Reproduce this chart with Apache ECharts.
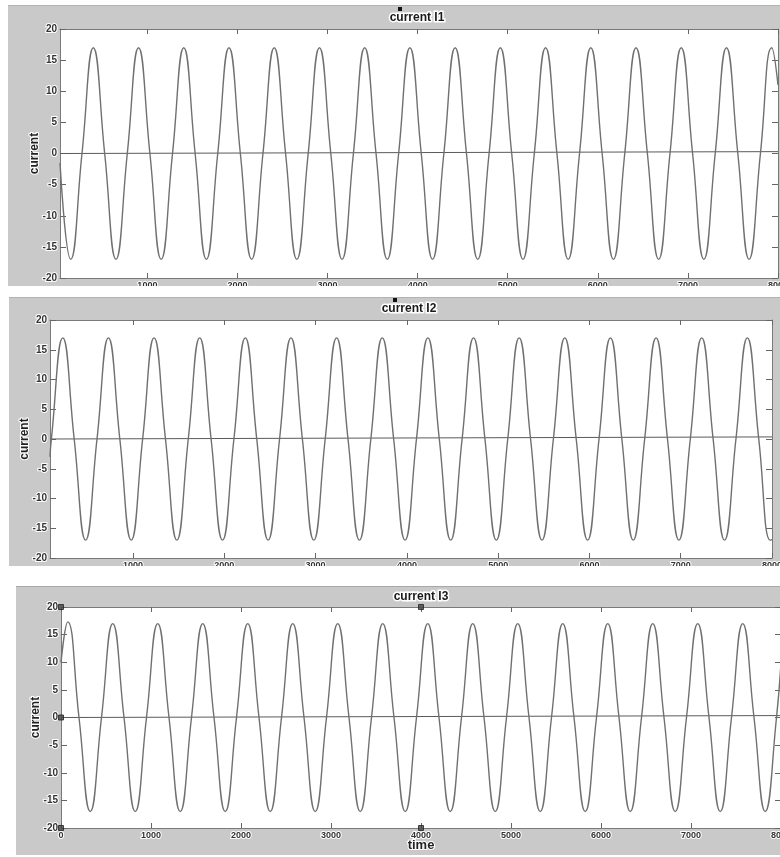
<!DOCTYPE html>
<html>
<head>
<meta charset="utf-8">
<script src="https://cdn.jsdelivr.net/npm/echarts@6/dist/echarts.min.js"></script>
<style>
html, body { margin: 0; padding: 0; background: #fff; }
#main { width: 780px; height: 857px; }
</style>
</head>
<body>
<div id="main"></div>
<script>
// tick labels
var xTicks = [1000, 2000, 3000, 4000, 5000, 6000, 7000, 8000];
var xTicks3 = [0, 1000, 2000, 3000, 4000, 5000, 6000, 7000, 8000];

// current I1 : peaks, zero crossings and troughs
var t1 = [30, 149, 274, 400, 526, 651, 777, 902, 1028, 1153, 1279, 1404, 1530, 1655, 1781, 1906,
	2032, 2157, 2283, 2408, 2534, 2659, 2785, 2910, 3036, 3161, 3287, 3412, 3538, 3663, 3789, 3914,
	4040, 4165, 4291, 4416, 4542, 4667, 4793, 4918, 5044, 5169, 5295, 5420, 5546, 5671, 5797, 5922,
	6048, 6173, 6299, 6424, 6550, 6675, 6801, 6926, 7052, 7177, 7303, 7428, 7554, 7679, 7805, 7930, 8000];
var i1 = [-1.5,
	-17, 0, 17, 0, -17, 0, 17, 0, -17, 0, 17, 0, -17, 0, 17, 0,
	-17, 0, 17, 0, -17, 0, 17, 0, -17, 0, 17, 0, -17, 0, 17, 0,
	-17, 0, 17, 0, -17, 0, 17, 0, -17, 0, 17, 0, -17, 0, 17, 0,
	-17, 0, 17, 0, -17, 0, 17, 0, -17, 0, 17, 0, -17, 0, 17,
	11];

// current I2
var t2 = [90, 105, 230, 355, 480, 605, 730, 855, 980, 1105, 1230, 1355, 1480, 1605, 1730, 1855, 1980,
	2105, 2230, 2355, 2480, 2605, 2730, 2855, 2980, 3105, 3230, 3355, 3480, 3605, 3730, 3855, 3980,
	4105, 4230, 4355, 4480, 4605, 4730, 4855, 4980, 5105, 5230, 5355, 5480, 5605, 5730, 5855, 5980,
	6105, 6230, 6355, 6480, 6605, 6730, 6855, 6980, 7105, 7230, 7355, 7480, 7605, 7730, 7855, 7980, 8000];
var i2 = [-3,
	0, 17, 0, -17, 0, 17, 0, -17, 0, 17, 0, -17, 0, 17, 0, -17,
	0, 17, 0, -17, 0, 17, 0, -17, 0, 17, 0, -17, 0, 17, 0, -17,
	0, 17, 0, -17, 0, 17, 0, -17, 0, 17, 0, -17, 0, 17, 0, -17,
	0, 17, 0, -17, 0, 17, 0, -17, 0, 17, 0, -17, 0, 17, 0, -17,
	-16.9];

// current I3
var t3 = [0, 75, 200, 325, 450, 575, 700, 825, 950, 1075, 1200, 1325, 1450, 1575, 1700, 1825, 1950,
	2075, 2200, 2325, 2450, 2575, 2700, 2825, 2950, 3075, 3200, 3325, 3450, 3575, 3700, 3825, 3950,
	4075, 4200, 4325, 4450, 4575, 4700, 4825, 4950, 5075, 5200, 5325, 5450, 5575, 5700, 5825, 5950,
	6075, 6200, 6325, 6450, 6575, 6700, 6825, 6950, 7075, 7200, 7325, 7450, 7575, 7700, 7825, 7950, 8000];
var i3 = [10,
	17.3, 0, -17, 0, 17, 0, -17, 0, 17, 0, -17, 0, 17, 0, -17, 0,
	17, 0, -17, 0, 17, 0, -17, 0, 17, 0, -17, 0, 17, 0, -17, 0,
	17, 0, -17, 0, 17, 0, -17, 0, 17, 0, -17, 0, 17, 0, -17, 0,
	17, 0, -17, 0, 17, 0, -17, 0, 17, 0, -17, 0, 17, 0, -17, 0,
	10];

// the slow line near zero in each scope
var dcT1 = [30, 8000];
var dc1 = [0, 0.3];
var dcT2 = [90, 8000];
var dc2 = [0, 0.35];
var dcT3 = [0, 8000];
var dc3 = [0, 0.35];

// selection handles on the third picture
var handleT = [0, 0, 0, 4000, 4000];
var handleV = [20, 0, -20, 20, -20];

function pairs(ts, vs) {
	var out = [];
	for (var k = 0; k < ts.length; k++) {
		out.push([ts[k], vs[k]]);
	}
	return out;
}

var lineCol = '#7a7a7a';

function bottomAxis(g, min, ticks, name) {
	return {
		type: 'value', gridIndex: g, min: min, max: 8000, position: 'bottom',
		splitLine: { show: false },
		axisLine: { onZero: false, lineStyle: { color: lineCol, width: 1 } },
		axisTick: { inside: true, length: 5, customValues: ticks, lineStyle: { color: '#666' } },
		axisLabel: {
			customValues: ticks, margin: 3, fontSize: 9, fontWeight: 'bold',
			fontFamily: 'Liberation Sans', color: '#333',
			textBorderColor: '#fff', textBorderWidth: 2,
			formatter: function (v) { return String(v); }
		},
		name: name || '', nameLocation: 'middle', nameGap: 11, nameMoveOverlap: false,
		nameTextStyle: { fontSize: 13, fontWeight: 'bold', fontFamily: 'Liberation Sans', color: '#222',
			textBorderColor: '#fff', textBorderWidth: 2 }
	};
}

function topAxis(g, min, ticks) {
	return {
		type: 'value', gridIndex: g, min: min, max: 8000, position: 'top',
		splitLine: { show: false },
		axisLine: { onZero: false, lineStyle: { color: lineCol, width: 1 } },
		axisTick: { inside: true, length: 5, customValues: ticks, lineStyle: { color: '#666' } },
		axisLabel: { show: false }
	};
}

function leftAxis(g) {
	return {
		type: 'value', gridIndex: g, min: -20, max: 20, interval: 5, position: 'left',
		splitLine: { show: false },
		axisLine: { show: true, onZero: false, lineStyle: { color: lineCol, width: 1 } },
		axisTick: { show: true, inside: true, length: 6, lineStyle: { color: '#666' } },
		axisLabel: {
			margin: 3, fontSize: 10, fontWeight: 'bold', fontFamily: 'Liberation Sans', color: '#333',
			textBorderColor: '#fff', textBorderWidth: 2
		},
		name: 'current', nameLocation: 'middle', nameGap: 19, nameRotate: 90, nameMoveOverlap: false,
		nameTextStyle: { fontSize: 12, fontWeight: 'bold', fontFamily: 'Liberation Sans', color: '#222',
			textBorderColor: '#fff', textBorderWidth: 2 }
	};
}

function rightAxis(g) {
	return {
		type: 'value', gridIndex: g, min: -20, max: 20, interval: 5, position: 'right',
		splitLine: { show: false },
		axisLine: { show: true, onZero: false, lineStyle: { color: lineCol, width: 1 } },
		axisTick: { show: true, inside: true, length: 6, lineStyle: { color: '#666' } },
		axisLabel: { show: false }
	};
}

function wave(g, data) {
	return {
		type: 'line', xAxisIndex: g, yAxisIndex: g, data: data,
		smooth: 0.5, showSymbol: false, symbol: 'none', animation: false,
		lineStyle: { color: '#707070', width: 1.4 }, z: 3
	};
}

function dcLine(g, data) {
	return {
		type: 'line', xAxisIndex: g, yAxisIndex: g, data: data,
		showSymbol: false, symbol: 'none', animation: false,
		lineStyle: { color: '#5a5a5a', width: 1 }, z: 2
	};
}

function titleText(x, y, txt) {
	return {
		type: 'text', x: x, y: y, z: 50,
		style: {
			text: txt, align: 'center', verticalAlign: 'middle',
			font: 'bold 12px "Liberation Sans"', fill: '#1a1a1a',
			stroke: '#fff', lineWidth: 3
		}
	};
}

var myChart = echarts.init(document.getElementById('main'));
var option = {
	backgroundColor: '#fff',
	animation: false,
	grid: [
		{ left: 60, top: 29, width: 718, height: 249, show: true, backgroundColor: '#fff', borderWidth: 0, outerBoundsMode: 'none' },
		{ left: 50, top: 320, width: 722, height: 238, show: true, backgroundColor: '#fff', borderWidth: 0, outerBoundsMode: 'none' },
		{ left: 61, top: 607, width: 720, height: 221, show: true, backgroundColor: '#fff', borderWidth: 0, outerBoundsMode: 'none' }
	],
	xAxis: [
		bottomAxis(0, 30, xTicks),
		bottomAxis(1, 90, xTicks),
		bottomAxis(2, 0, xTicks3, 'time'),
		topAxis(0, 30, xTicks),
		topAxis(1, 90, xTicks),
		topAxis(2, 0, xTicks3)
	],
	yAxis: [
		leftAxis(0), leftAxis(1), leftAxis(2),
		rightAxis(0), rightAxis(1), rightAxis(2)
	],
	series: [
		dcLine(0, pairs(dcT1, dc1)),
		wave(0, pairs(t1, i1)),
		dcLine(1, pairs(dcT2, dc2)),
		wave(1, pairs(t2, i2)),
		dcLine(2, pairs(dcT3, dc3)),
		wave(2, pairs(t3, i3)),
		{
			type: 'scatter', xAxisIndex: 2, yAxisIndex: 2, data: pairs(handleT, handleV),
			symbol: 'rect', symbolSize: 5, z: 10, silent: true,
			itemStyle: { color: '#444', borderColor: '#222', borderWidth: 1 }
		}
	],
	graphic: [
		// grey scope panels
		{ type: 'rect', z: -10, shape: { x: 8, y: 5, width: 772, height: 281 }, style: { fill: '#c9c9c9' } },
		{ type: 'rect', z: -10, shape: { x: 9, y: 297, width: 771, height: 269 }, style: { fill: '#c9c9c9' } },
		{ type: 'rect', z: -10, shape: { x: 16, y: 586, width: 764, height: 269 }, style: { fill: '#c9c9c9' } },
		{ type: 'line', z: -9, shape: { x1: 8, y1: 5.5, x2: 780, y2: 5.5 }, style: { stroke: '#b3b3b3', lineWidth: 1 } },
		{ type: 'line', z: -9, shape: { x1: 9, y1: 297.5, x2: 780, y2: 297.5 }, style: { stroke: '#b3b3b3', lineWidth: 1 } },
		{ type: 'line', z: -9, shape: { x1: 16, y1: 586.5, x2: 780, y2: 586.5 }, style: { stroke: '#a8a8a8', lineWidth: 1 } },
		// white gaps between the pictures (they cut the lower labels)
		{ type: 'rect', z: 100, shape: { x: 0, y: 286, width: 780, height: 11 }, style: { fill: '#fff' } },
		{ type: 'rect', z: 100, shape: { x: 0, y: 566, width: 780, height: 20 }, style: { fill: '#fff' } },
		{ type: 'rect', z: 100, shape: { x: 0, y: 855, width: 780, height: 2 }, style: { fill: '#fff' } },
		titleText(417, 18, 'current I1'),
		titleText(409, 309, 'current I2'),
		titleText(421, 597, 'current I3'),
		{ type: 'rect', z: 60, shape: { x: 398, y: 7, width: 4, height: 4 }, style: { fill: '#111' } },
		{ type: 'rect', z: 60, shape: { x: 393, y: 298, width: 4, height: 4 }, style: { fill: '#111' } }
	]
};
myChart.setOption(option);
</script>
</body>
</html>
